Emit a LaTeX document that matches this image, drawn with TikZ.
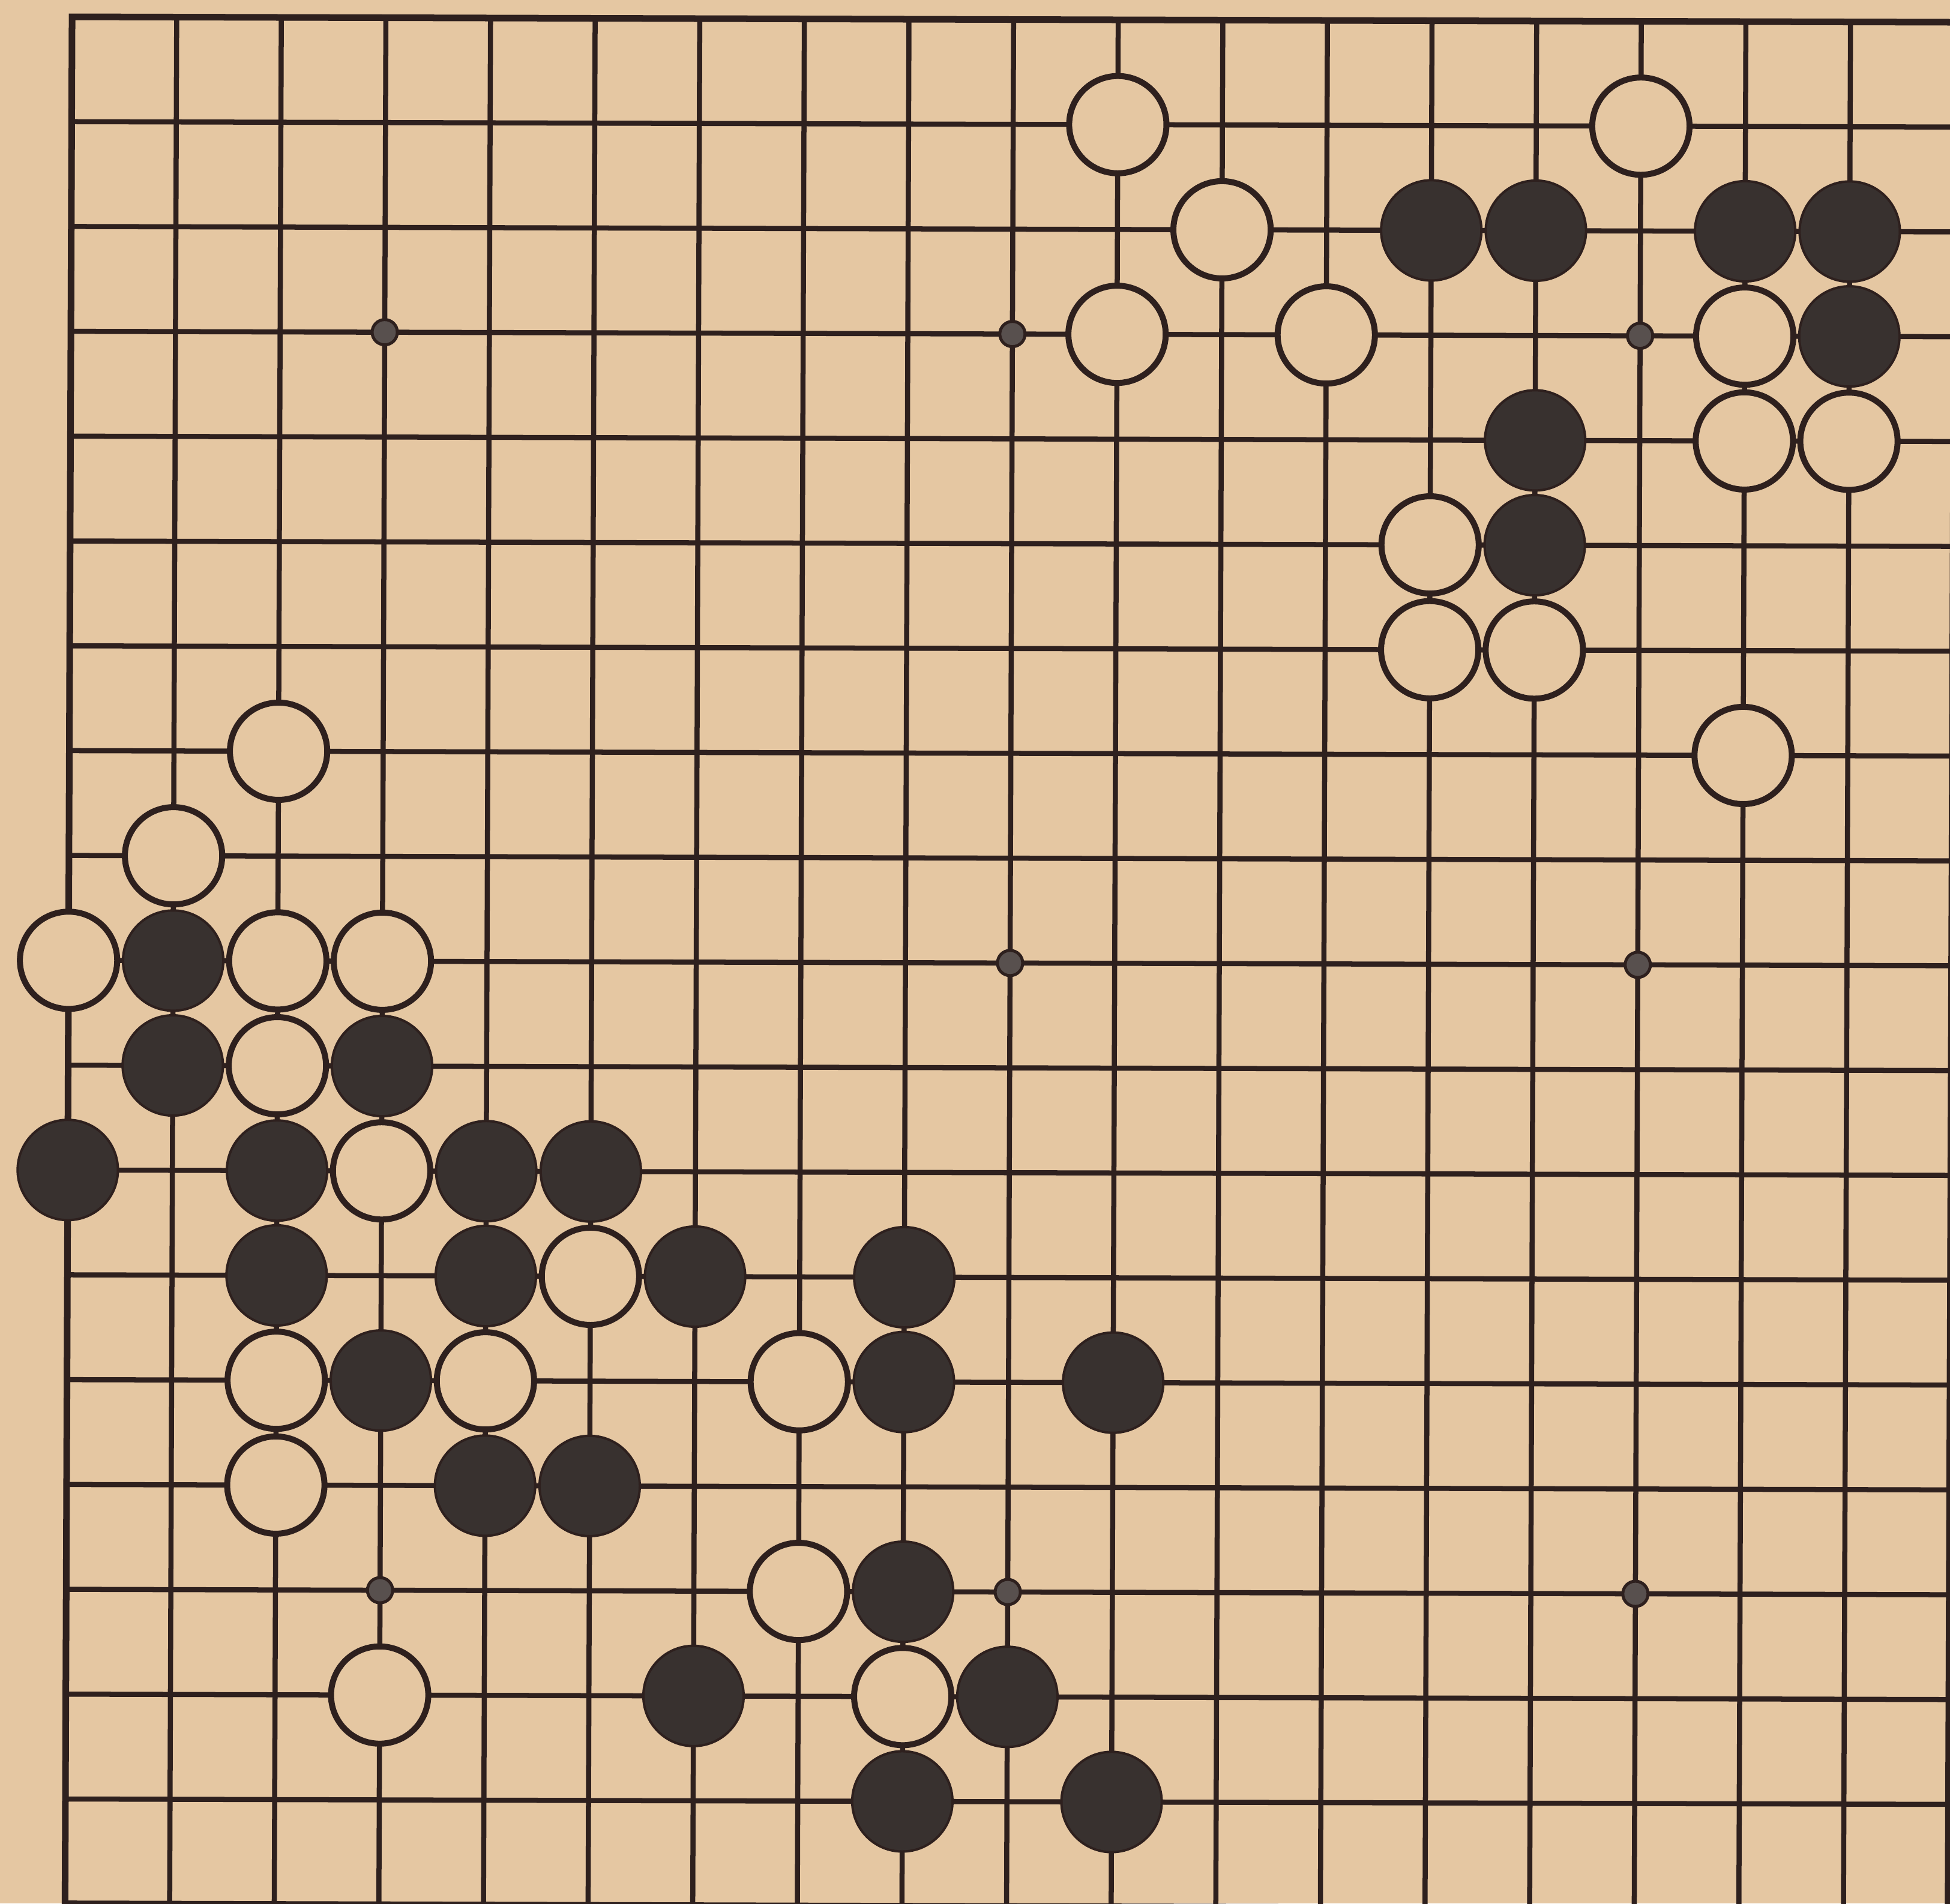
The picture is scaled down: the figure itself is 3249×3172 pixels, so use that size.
\documentclass[tikz,border=0pt]{standalone}
\definecolor{paper}{RGB}{229,199,162}
\definecolor{ink}{RGB}{46,32,30}
\definecolor{stoneblack}{RGB}{56,49,47}
\definecolor{stargray}{RGB}{88,80,78}
\tikzset{
  gridline/.style={draw=ink, line width=0.085cm},
  edgeline/.style={draw=ink, line width=0.11cm, line join=miter},
  whitestone/.style={fill=paper, draw=ink, line width=0.1cm},
  blackstone/.style={fill=stoneblack, draw=ink, line width=0.04cm},
  starpt/.style={fill=stargray, draw=ink, line width=0.05cm},
}
\begin{document}
\begin{tikzpicture}[x=0.01cm,y=-0.01cm]
\fill[paper] (0,0) rectangle (3249,3172);
\useasboundingbox (0,0) rectangle (3249,3172);
\begin{scope}[shift={(1.20cm,-0.28cm)}, x={(1.742cm,-0.005cm)}, y={(-0.0065cm,-1.746cm)}]
  % grid
  \foreach \c in {1,...,17} \draw[gridline] (\c,0) -- (\c,18);
  \foreach \r in {1,...,17} \draw[gridline] (0,\r) -- (18,\r);
  \draw[edgeline] (0,0) -- (18,0) -- (18,18) -- (0,18) -- cycle;
  % star points
  \foreach \c/\r in {3/3,9/3,15/3,9/9,15/9,3/15,9/15,15/15}
    \draw[starpt] (\c,\r) circle[radius=0.21cm];
  % white stones
  \foreach \c/\r in {10/1,15/1,11/2,10/3,12/3,16/3,16/4,17/4,13/5,13/6,14/6,
                     2/7,16/7,1/8,0/9,2/9,3/9,2/10,3/11,5/12,2/13,4/13,7/13,
                     2/14,7/15,3/16,8/16}
    \draw[whitestone] (\c,\r) circle[radius=0.81cm];
  % black stones
  \foreach \c/\r in {13/2,14/2,16/2,17/2,17/3,14/4,14/5,1/9,1/10,3/10,0/11,
                     2/11,4/11,5/11,2/12,4/12,6/12,8/12,3/13,8/13,10/13,
                     4/14,5/14,8/15,6/16,9/16,8/17,10/17}
    \draw[blackstone] (\c,\r) circle[radius=0.835cm];
\end{scope}
\end{tikzpicture}
\end{document}
